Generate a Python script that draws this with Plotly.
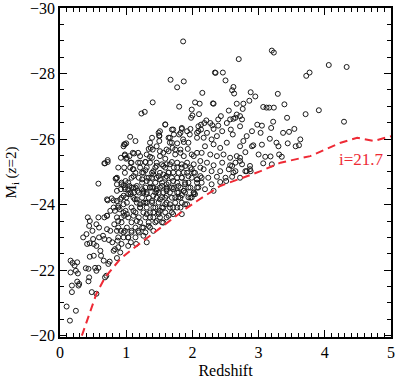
import plotly.graph_objects as go

# quasar sample as (redshift, M_i(z=2)) pairs, grouped by region
bright_pts = [
    (1.86, -28.98), (2.35, -28.02), (1.67, -27.81), (1.87, -27.76), (1.77, -27.58),
    (2.15, -27.41), (1.40, -27.12), (1.80, -26.99), (2.04, -27.12), (2.11, -27.08),
    (2.31, -27.09), (1.23, -26.78), (1.28, -26.83), (1.99, -26.90), (2.10, -26.76),
    (2.00, -26.72), (1.98, -26.65), (2.21, -26.57), (1.59, -26.45), (2.13, -26.44),
    (2.30, -26.42), (2.39, -26.60),
]

high_z_pts = [
    (2.70, -28.44), (3.20, -28.70), (3.23, -28.64), (4.06, -28.26), (4.33, -28.20),
    (2.34, -28.03), (2.46, -28.03), (2.50, -27.79), (3.72, -27.93), (3.77, -28.03),
    (2.62, -27.59), (2.60, -27.49), (2.63, -27.39), (2.88, -27.43), (2.95, -27.30),
    (2.86, -27.17), (3.29, -27.38), (3.39, -27.06), (2.32, -27.08), (2.67, -27.08),
    (2.77, -27.08), (3.07, -26.98), (3.12, -26.96), (3.16, -26.96), (3.23, -26.96),
    (2.76, -26.92), (2.55, -26.87), (3.91, -26.88), (3.71, -26.76), (3.43, -26.65),
    (4.29, -26.53), (3.22, -26.53), (2.43, -26.70), (2.72, -26.70), (2.65, -26.65),
    (2.57, -26.60), (2.98, -26.44), (3.05, -26.41), (2.72, -26.39), (3.19, -26.34),
    (3.54, -26.31), (3.37, -26.19), (3.46, -26.22), (3.03, -26.19), (2.90, -26.24),
    (2.82, -26.09), (2.58, -26.29), (2.61, -26.14), (3.63, -25.99), (3.56, -25.78),
    (3.61, -25.81), (3.44, -25.87), (3.27, -25.89), (3.30, -25.78), (3.17, -26.01),
    (3.05, -25.83), (2.90, -25.78), (2.92, -25.81), (2.72, -25.78), (2.77, -25.94),
    (3.00, -25.53), (3.10, -25.46), (3.18, -25.47), (3.31, -25.53), (3.35, -25.46),
    (3.07, -25.26), (3.20, -25.23), (2.80, -25.60), (2.72, -25.43), (2.65, -25.28),
    (2.75, -25.23), (2.87, -25.18), (2.82, -25.02), (2.88, -25.02), (2.60, -25.18),
    (2.62, -24.98), (2.72, -24.82), (2.51, -24.72),
]

low_z_pts = [
    (0.10, -20.89), (0.15, -20.46), (0.24, -20.76), (0.16, -22.29), (0.16, -21.93),
    (0.19, -22.22), (0.18, -21.53), (0.18, -21.33), (0.22, -22.14), (0.24, -21.98),
    (0.26, -22.24), (0.27, -21.90), (0.26, -21.65), (0.28, -21.53), (0.29, -21.58),
    (0.35, -23.00), (0.40, -23.10), (0.42, -23.61), (0.45, -23.50), (0.44, -23.35),
    (0.41, -22.80), (0.45, -22.82), (0.45, -22.41), (0.39, -22.06), (0.43, -22.04),
    (0.44, -21.78), (0.43, -21.66), (0.48, -21.33), (0.55, -21.28), (0.51, -22.44),
    (0.55, -21.98), (0.53, -22.07), (0.58, -22.07), (0.49, -23.20), (0.50, -22.95),
    (0.51, -22.80), (0.55, -22.74), (0.59, -23.00), (0.61, -22.59), (0.62, -22.44),
    (0.66, -22.29), (0.68, -21.78), (0.70, -21.83), (0.73, -22.19), (0.75, -22.26),
    (0.65, -23.05), (0.67, -22.95), (0.71, -23.25), (0.76, -23.20), (0.72, -24.13),
    (0.81, -24.13), (0.71, -23.66), (0.67, -23.61), (0.58, -23.61), (0.55, -23.40),
    (0.59, -23.30), (0.74, -22.92), (0.79, -22.85), (0.81, -22.59), (0.83, -22.64),
    (0.87, -22.90), (0.88, -22.70), (0.91, -22.54), (0.86, -22.37), (0.93, -22.80),
    (0.96, -23.00), (0.98, -23.20), (0.92, -23.20), (0.86, -23.20), (0.82, -23.40),
    (0.88, -23.50), (0.93, -23.61), (0.97, -23.66), (0.83, -23.81), (0.90, -23.86),
    (0.99, -23.81), (1.00, -24.22), (1.03, -24.32), (0.96, -24.01), (1.08, -24.52),
    (1.12, -24.37), (1.16, -24.16), (1.21, -23.91), (1.26, -24.06), (1.31, -24.32),
    (1.39, -24.11), (1.11, -23.66), (1.16, -23.50), (1.08, -23.20), (1.03, -23.00),
    (1.07, -22.85), (1.03, -22.74), (1.18, -23.20), (1.24, -23.30), (1.26, -23.05),
    (1.34, -23.35), (1.36, -23.61), (1.41, -23.76), (1.46, -23.50), (1.51, -23.81),
    (1.59, -24.01), (1.64, -23.66), (1.71, -23.91), (1.79, -24.22), (1.84, -23.71),
    (1.92, -24.01), (1.99, -24.22), (1.54, -24.22), (1.46, -24.42), (1.61, -24.42),
    (1.71, -24.47), (1.87, -24.42), (1.24, -24.47), (1.36, -24.52), (1.41, -23.20),
    (1.56, -23.45), (1.31, -22.85), (1.15, -22.80),
]

mid_z_pts = [
    (1.06, -26.07), (0.98, -25.84), (0.96, -25.78), (0.68, -25.26), (0.72, -25.30),
    (0.84, -24.79), (0.92, -25.43), (0.98, -25.50), (1.01, -25.43), (1.10, -25.58),
    (1.11, -25.08), (1.18, -25.58), (1.21, -25.48), (1.08, -25.28), (1.18, -25.28),
    (1.29, -25.30), (1.36, -25.28), (1.36, -25.46), (1.34, -25.70), (1.40, -25.68),
    (1.36, -25.89), (1.50, -25.94), (1.50, -26.11), (1.51, -26.24), (1.69, -26.29),
    (1.72, -26.14), (1.66, -26.04), (1.80, -26.14), (1.84, -26.31), (1.96, -26.14),
    (1.97, -26.31), (1.66, -25.89), (1.77, -25.87), (1.87, -25.91), (1.70, -25.73),
    (1.82, -25.68), (1.93, -25.70), (1.56, -25.58), (1.64, -25.63), (1.51, -25.48),
    (1.59, -25.40), (1.74, -25.53), (1.87, -25.48), (1.99, -25.53), (2.07, -25.58),
    (2.07, -26.04), (2.09, -26.24), (1.46, -25.18), (1.54, -25.23), (1.61, -25.23),
    (1.69, -25.30), (1.77, -25.28), (1.84, -25.23), (1.92, -25.28), (2.02, -25.23),
    (1.29, -25.05), (1.41, -25.02), (0.96, -24.59), (0.92, -24.47), (0.86, -24.42),
    (0.98, -24.47), (1.05, -24.57), (1.11, -24.52), (1.17, -24.42), (1.07, -24.32),
    (0.96, -24.27), (0.91, -24.16), (0.71, -24.16), (0.78, -24.19), (0.86, -24.11),
    (0.81, -23.91), (0.88, -23.96), (0.76, -23.81), (0.71, -23.66), (1.24, -24.77),
    (1.31, -24.72), (1.39, -24.82), (1.44, -24.67), (1.49, -24.87), (1.56, -24.92),
    (1.64, -24.98), (1.71, -24.98), (1.77, -24.82), (1.87, -24.98), (1.94, -24.87),
    (2.02, -24.98), (2.07, -24.77), (1.36, -24.52), (1.46, -24.47), (1.54, -24.57),
    (1.61, -24.62), (1.69, -24.52), (1.79, -24.57), (1.89, -24.62), (1.97, -24.52),
    (1.26, -24.37), (1.41, -24.27), (1.51, -24.16), (1.61, -24.27), (1.74, -24.22),
    (1.84, -24.29), (1.94, -24.22), (2.04, -24.32), (1.31, -24.06), (1.21, -24.01),
    (1.13, -24.16), (1.41, -23.91), (1.56, -23.91), (1.66, -24.01), (1.82, -23.91),
    (1.89, -24.01), (1.11, -23.81), (1.01, -23.71), (1.31, -23.71), (1.49, -23.71),
    (1.71, -23.71),
]

upper_pts = [
    (2.18, -26.49), (2.27, -26.49), (2.13, -26.29), (2.22, -26.19), (2.32, -26.31),
    (2.39, -26.41), (2.17, -26.04), (2.29, -25.99), (2.37, -26.09), (2.45, -26.24),
    (2.52, -26.49), (2.62, -26.62), (2.75, -26.60), (2.67, -26.75), (2.19, -25.78),
    (2.32, -25.84), (2.42, -25.73), (2.52, -25.89), (2.14, -25.58), (2.27, -25.53),
    (2.37, -25.48), (2.47, -25.53), (2.57, -25.43), (2.67, -25.48), (2.12, -25.33),
    (2.22, -25.28), (2.32, -25.20), (2.45, -25.28), (2.57, -25.20), (2.72, -25.33),
    (2.17, -25.08), (2.29, -25.02), (2.42, -25.02), (2.55, -25.08), (2.65, -25.02),
    (2.80, -25.02), (2.87, -25.08), (2.12, -24.87), (2.24, -24.82), (2.37, -24.85),
    (2.50, -24.82), (2.60, -24.85), (2.14, -24.67), (2.29, -24.62), (2.42, -24.69),
    (2.19, -24.47), (2.32, -24.42), (2.07, -24.52), (2.02, -24.37),
]

left_pts = [
    (0.58, -24.64), (0.67, -25.26), (0.72, -25.36), (0.85, -24.80), (0.93, -24.62),
    (0.99, -24.72), (0.97, -25.84), (1.00, -25.87), (1.14, -25.94), (1.05, -25.48),
    (1.12, -25.56), (0.98, -25.53), (1.00, -25.40), (1.07, -25.28), (0.97, -25.13),
    (1.10, -25.08), (1.21, -25.28), (1.29, -25.30), (1.31, -25.53), (1.37, -25.73),
    (1.39, -26.04), (1.49, -26.19), (1.50, -26.09), (1.59, -26.44), (1.71, -26.29),
    (1.84, -26.34), (1.82, -26.19), (1.92, -26.24), (1.86, -25.99), (1.94, -25.89),
    (2.07, -26.19), (2.09, -26.39), (1.64, -26.04), (1.69, -25.89), (1.46, -25.78),
    (1.51, -25.63), (1.61, -25.68), (1.74, -25.68), (1.82, -25.58), (2.02, -25.48),
    (1.39, -25.43), (1.46, -25.28), (1.56, -25.18), (1.66, -25.23), (1.77, -25.13),
    (1.89, -25.18), (1.99, -25.08), (1.11, -24.87), (1.24, -24.98), (1.31, -24.82),
    (1.41, -24.92), (1.51, -24.77), (1.61, -24.87), (1.71, -24.72), (1.84, -24.82),
    (1.94, -24.67), (2.07, -24.77), (0.86, -24.62), (1.03, -24.47), (1.16, -24.57),
    (1.26, -24.42), (1.39, -24.52), (1.49, -24.37), (1.61, -24.47), (1.77, -24.37),
    (1.87, -24.42), (2.02, -24.32),
]

# crowded core just above the flux limit
core_pts = [
    (0.88, -25.13), (1.06, -25.13), (1.21, -25.13), (1.31, -25.13), (1.44, -25.13),
    (1.59, -25.13), (1.72, -25.13), (1.84, -25.13), (1.97, -25.13), (2.12, -25.13),
    (0.98, -24.97), (1.14, -24.97), (1.26, -24.97), (1.39, -24.97), (1.51, -24.97),
    (1.64, -24.97), (1.79, -24.97), (1.92, -24.97), (2.04, -24.97),
    (0.86, -24.82), (1.08, -24.82), (1.19, -24.82), (1.34, -24.82), (1.46, -24.82),
    (1.59, -24.82), (1.69, -24.82), (1.84, -24.82), (1.99, -24.82), (2.14, -24.82),
    (0.93, -24.67), (1.03, -24.67), (1.24, -24.67), (1.36, -24.67), (1.54, -24.67),
    (1.64, -24.67), (1.77, -24.67), (1.89, -24.67), (2.07, -24.67),
    (0.98, -24.52), (1.14, -24.52), (1.29, -24.52), (1.41, -24.52), (1.51, -24.52),
    (1.61, -24.52), (1.72, -24.52), (1.82, -24.52), (1.94, -24.52), (2.09, -24.52),
    (1.06, -24.37), (1.19, -24.37), (1.31, -24.37), (1.44, -24.37), (1.56, -24.37),
    (1.66, -24.37), (1.79, -24.37), (1.89, -24.37), (2.02, -24.37),
    (0.93, -24.21), (1.11, -24.21), (1.24, -24.21), (1.34, -24.21), (1.46, -24.21),
    (1.59, -24.21), (1.69, -24.21), (1.82, -24.21), (1.97, -24.21),
    (1.01, -24.06), (1.16, -24.06), (1.29, -24.06), (1.39, -24.06), (1.49, -24.06),
    (1.61, -24.06), (1.74, -24.06), (1.84, -24.06),
    (0.88, -23.91), (1.08, -23.91), (1.21, -23.91), (1.31, -23.91), (1.44, -23.91),
    (1.54, -23.91), (1.66, -23.91), (1.77, -23.91),
    (0.96, -23.76), (1.14, -23.76), (1.26, -23.76), (1.36, -23.76), (1.49, -23.76),
    (1.59, -23.76), (1.69, -23.76),
    (0.86, -23.61), (1.03, -23.61), (1.19, -23.61), (1.29, -23.61), (1.41, -23.61),
    (1.51, -23.61), (1.61, -23.61),
    (0.93, -23.46), (1.08, -23.46), (1.21, -23.46), (1.34, -23.46), (1.44, -23.46),
    (1.54, -23.46),
    (0.88, -23.30), (1.01, -23.30), (1.14, -23.30), (1.26, -23.30), (1.36, -23.30),
    (0.96, -23.15), (1.08, -23.15), (1.19, -23.15), (1.29, -23.15),
    (0.88, -23.00), (1.03, -23.00), (1.14, -23.00),
]

# i = 21.7 flux limit curve
limit_z = [0.33, 0.43, 0.55, 0.68, 0.81, 0.91, 1.06, 1.26, 1.49, 1.89, 2.07,
           2.42, 2.72, 3.03, 3.33, 3.78, 4.24, 4.49, 4.74, 5.0]
limit_m = [-20.0, -20.57, -21.28, -21.78, -22.09, -22.34, -22.59, -22.9, -23.25, -23.86, -24.11,
           -24.57, -24.79, -25.02, -25.28, -25.48, -25.89, -26.04, -25.94, -26.09]

all_pts = bright_pts + high_z_pts + low_z_pts + mid_z_pts + upper_pts + left_pts + core_pts
redshift = [p[0] for p in all_pts]
mag = [p[1] for p in all_pts]

red = '#ee2a35'

fig = go.Figure()
fig.add_trace(go.Scatter(x=redshift, y=mag, mode='markers',
                         marker=dict(symbol='circle-open', size=5, color='#1a1a1a',
                                     line=dict(width=1, color='#1a1a1a'))))
fig.add_trace(go.Scatter(x=limit_z, y=limit_m, mode='lines',
                         line=dict(color=red, width=2, dash='8px,5px')))

fig.add_annotation(x=4.55, y=-25.38, text='i=21.7', showarrow=False,
                   font=dict(color=red, size=17))

axis_style = dict(ticks='inside', ticklen=7, tickwidth=1, tickcolor='black',
                  showline=True, linewidth=1.5, linecolor='black', mirror='ticks',
                  showgrid=False, zeroline=False, automargin=False,
                  ticklabeloverflow='allow', tickfont=dict(size=16))

fig.update_xaxes(range=[0, 5], dtick=1, tick0=0,
                 minor=dict(dtick=0.1, ticks='inside', ticklen=4, tickcolor='black', showgrid=False),
                 title=dict(text='Redshift', standoff=5, font=dict(size=16)), **axis_style)
fig.update_yaxes(range=[-19.96, -30], dtick=2, tick0=-30,
                 minor=dict(dtick=0.5, ticks='inside', ticklen=4, tickcolor='black', showgrid=False),
                 title=dict(text='M<sub>i</sub> (<i>z</i>=2)', standoff=10, font=dict(size=15)),
                 **axis_style)

fig.update_layout(width=399, height=385, margin=dict(l=60, r=8, t=8, b=48),
                  plot_bgcolor='white', paper_bgcolor='white', showlegend=False,
                  font=dict(family='Liberation Serif, Times New Roman, serif', size=16, color='black'))

# the page's default body margin would shift the figure by 8px
fig.write_html("out.html", config={'displayModeBar': False},
               post_script="document.body.style.margin='0';")
